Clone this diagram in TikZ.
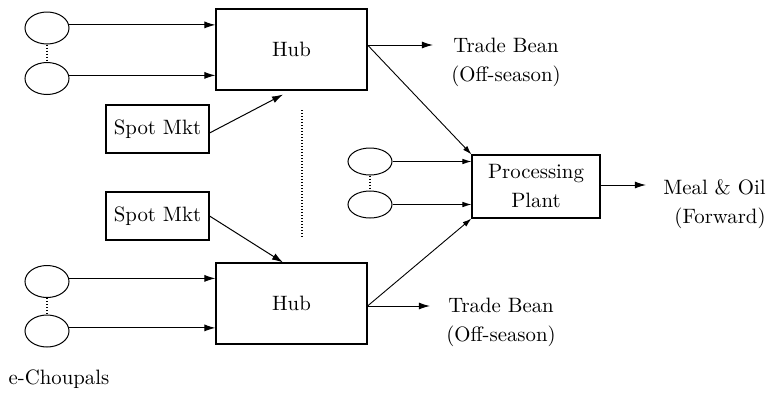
\documentclass[tikz,border=0pt]{standalone}
\usepackage{fontspec}
\usetikzlibrary{shapes.geometric,arrows.meta}
\begin{document}
\begin{tikzpicture}[x=0.5pt,y=-0.5pt,
  every node/.style={font=\fontsize{10.4}{14.5}\selectfont},
  box/.style={draw,line width=0.55pt,inner sep=0pt},
  hubbox/.style={box,minimum width=75.5pt,minimum height=40.5pt},
  spotbox/.style={box,minimum width=51.5pt,minimum height=24pt},
  farm/.style={draw,ellipse,line width=0.5pt,minimum width=22pt,minimum height=16pt,inner sep=0pt},
  smallfarm/.style={farm,minimum height=13.5pt},
  label/.style={inner sep=0pt},
  flow/.style={line width=0.5pt,-{Latex[length=5.5pt,width=3.5pt]}},
  thinflow/.style={line width=0.45pt,-{Latex[length=4.5pt,width=2.8pt]}},
  dots/.style={line width=0.9pt,dash pattern=on 0.7pt off 0.8pt},
]
\useasboundingbox (0,0) rectangle (767,392);

% collection points (e-Choupals)
\node[farm] (e1) at (47,28) {};
\node[farm] (e2) at (47,78.5) {};
\node[farm] (e3) at (47,281.5) {};
\node[farm] (e4) at (47,331) {};
\node[label] (ech) at (59,379) {e-Choupals};

% hubs and spot markets
\node[hubbox] (hub1) at (291.5,49.5) {Hub};
\node[hubbox] (hub2) at (291.5,303.5) {Hub};
\node[spotbox] (spot1) at (157.5,129) {Spot Mkt};
\node[spotbox] (spot2) at (157.5,216) {Spot Mkt};

% processing plant with its own suppliers
\node[box,minimum width=64pt,minimum height=31.5pt,align=center] (pp) at (536,186.5) {Processing\\Plant};
\node[smallfarm] (s1) at (370,161.5) {};
\node[smallfarm] (s2) at (370,204.5) {};

% outputs
\node[label,align=center] (tb1) at (506,62) {Trade Bean\\(Off-season)};
\node[label,align=center] (tb2) at (501,322.5) {Trade Bean\\(Off-season)};
\node[label,align=right,anchor=east] (meal) at (766,204) {Meal \& Oil\\(Forward)};

% ellipsis marks
\draw[dots] (e1) -- (e2);
\draw[dots] (e3) -- (e4);
\draw[dots] (s1) -- (s2);
\coordinate (gapA) at (302,110);
\coordinate (gapB) at (302,237);
\draw[dots] (gapA) -- (gapB);

% supply into the hubs
\draw[flow] (e1.8) -- (e1.8 -| hub1.west);
\draw[flow] (e2.8) -- (e2.8 -| hub1.west);
\draw[flow] (e3.8) -- (e3.8 -| hub2.west);
\draw[flow] (e4.8) -- (e4.8 -| hub2.west);
\coordinate (in1) at ([xshift=-4.25pt,yshift=-2pt]hub1.south);
\coordinate (in2) at ([xshift=-4.25pt]hub2.north);
\draw[flow] ([yshift=-2pt]spot1.east) -- (in1);
\draw[flow] (spot2.east) -- (in2);

% hub outputs
\coordinate (out1) at ([yshift=2.25pt]hub1.east);
\coordinate (out2) at ([yshift=-1.25pt]hub2.east);
\draw[flow,shorten >=9pt] (out1) -- (out1 -| tb1.west);
\draw[flow,shorten >=8pt] (out2) -- (out2 -| tb2.west);
\draw[thinflow] (out1) -- (pp.north west);
\draw[thinflow] (out2) -- (pp.south west);

% plant supply and output
\draw[thinflow] (s1.east) -- (s1.east -| pp.west);
\draw[thinflow] (s2.east) -- (s2.east -| pp.west);
\coordinate (ppout) at ([yshift=0.75pt]pp.east);
\draw[flow,shorten >=8.5pt] (ppout) -- (ppout -| meal.west);
\end{tikzpicture}
\end{document}
